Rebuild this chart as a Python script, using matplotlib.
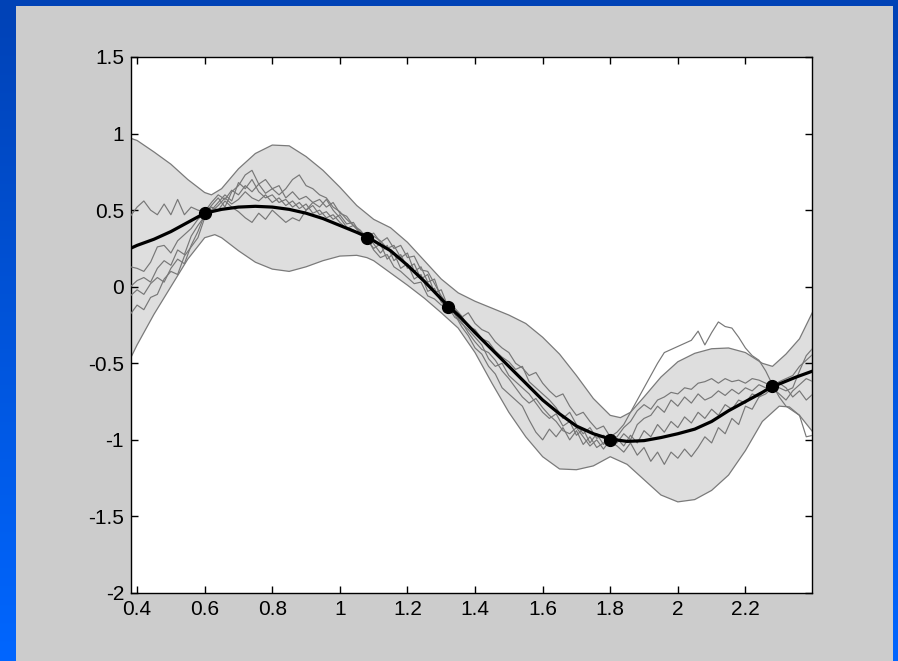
import numpy as np
import matplotlib
matplotlib.use("Agg")
import matplotlib.pyplot as plt
from matplotlib.colors import LinearSegmentedColormap
from matplotlib.patches import Rectangle

# --- data ---
# observed training points
obs_x = [0.6, 1.08, 1.32, 1.8, 2.28]
obs_y = [0.48, 0.32, -0.13, -1.0, -0.65]

# posterior mean
mean_x = [0.38, 0.40, 0.45, 0.50, 0.55, 0.60, 0.65, 0.70, 0.75, 0.80, 0.85, 0.90, 0.95,
          1.00, 1.05, 1.08, 1.10, 1.15, 1.20, 1.25, 1.30, 1.32, 1.35, 1.40, 1.45, 1.50,
          1.55, 1.60, 1.65, 1.70, 1.75, 1.80, 1.85, 1.90, 1.95, 2.00, 2.05, 2.10, 2.15,
          2.20, 2.25, 2.28, 2.30, 2.35, 2.40]
mean_y = [0.25, 0.27, 0.31, 0.36, 0.42, 0.48, 0.505, 0.52, 0.525, 0.52, 0.505, 0.48, 0.445,
          0.40, 0.355, 0.326, 0.30, 0.235, 0.14, 0.035, -0.08, -0.125, -0.185, -0.30, -0.41, -0.52,
          -0.63, -0.74, -0.83, -0.91, -0.96, -0.995, -1.01, -1.005, -0.985, -0.96, -0.93, -0.88, -0.81,
          -0.75, -0.69, -0.65, -0.635, -0.59, -0.55]

# upper edge of the confidence band
upper_x = [0.38, 0.40, 0.45, 0.50, 0.55, 0.60, 0.62, 0.65, 0.70, 0.75, 0.80, 0.85, 0.90, 0.95,
           1.00, 1.05, 1.10, 1.15, 1.20, 1.25, 1.30, 1.35, 1.40, 1.45, 1.50, 1.55, 1.60, 1.65,
           1.70, 1.75, 1.80, 1.83, 1.86, 1.90, 1.95, 2.00, 2.05, 2.10, 2.15, 2.20, 2.25, 2.28,
           2.32, 2.36, 2.40]
upper_y = [0.97, 0.955, 0.88, 0.80, 0.70, 0.615, 0.60, 0.64, 0.77, 0.87, 0.925, 0.92, 0.85, 0.76,
           0.65, 0.53, 0.44, 0.385, 0.29, 0.17, 0.05, -0.04, -0.095, -0.14, -0.185, -0.24, -0.33, -0.44,
           -0.58, -0.73, -0.84, -0.855, -0.82, -0.72, -0.59, -0.49, -0.435, -0.405, -0.40, -0.43, -0.50, -0.52,
           -0.44, -0.34, -0.16]

# lower edge of the confidence band
lower_x = [0.38, 0.40, 0.45, 0.50, 0.55, 0.60, 0.63, 0.65, 0.70, 0.75, 0.80, 0.85, 0.90, 0.95,
           1.00, 1.05, 1.08, 1.10, 1.15, 1.20, 1.25, 1.30, 1.35, 1.40, 1.45, 1.50, 1.55, 1.60,
           1.65, 1.70, 1.75, 1.80, 1.85, 1.90, 1.95, 2.00, 2.05, 2.10, 2.15, 2.20, 2.25, 2.30,
           2.33, 2.36, 2.40]
lower_y = [-0.47, -0.38, -0.18, 0.0, 0.18, 0.32, 0.34, 0.32, 0.235, 0.16, 0.115, 0.10, 0.13, 0.17,
           0.20, 0.205, 0.19, 0.17, 0.09, 0.01, -0.075, -0.17, -0.27, -0.43, -0.63, -0.82, -0.98, -1.11,
           -1.19, -1.195, -1.17, -1.11, -1.16, -1.26, -1.36, -1.405, -1.39, -1.33, -1.23, -1.07, -0.88, -0.78,
           -0.785, -0.84, -0.95]

# posterior samples, on a 0.02 grid from 0.38 to 2.40
sample_x = np.linspace(0.38, 2.40, 102)
sample_1 = [0.46, 0.52, 0.56, 0.50, 0.47, 0.54, 0.47, 0.57, 0.47, 0.52, 0.50, 0.49,
            0.55, 0.60, 0.57, 0.63, 0.60, 0.66, 0.62, 0.67, 0.61, 0.64, 0.60, 0.64,
            0.70, 0.73, 0.66, 0.64, 0.60, 0.58, 0.52, 0.49, 0.44, 0.40, 0.36, 0.33,
            0.28, 0.22, 0.27, 0.17, 0.21, 0.12, 0.15, 0.05, 0.08, -0.04, -0.02, -0.13,
            -0.15, -0.20, -0.17, -0.24, -0.28, -0.30, -0.36, -0.40, -0.43, -0.50, -0.53, -0.58,
            -0.56, -0.63, -0.68, -0.72, -0.70, -0.78, -0.84, -0.82, -0.88, -0.93, -0.91, -0.98,
            -0.95, -0.90, -0.82, -0.74, -0.66, -0.58, -0.50, -0.43, -0.41, -0.39, -0.37, -0.35,
            -0.29, -0.38, -0.30, -0.23, -0.26, -0.27, -0.33, -0.40, -0.45, -0.48, -0.55, -0.64,
            -0.72, -0.78, -0.81, -0.84, -0.98, -0.97]
sample_2 = [0.13, 0.12, 0.10, 0.16, 0.26, 0.27, 0.22, 0.30, 0.34, 0.38, 0.44, 0.48,
            0.53, 0.58, 0.52, 0.62, 0.66, 0.73, 0.76, 0.67, 0.70, 0.64, 0.66, 0.58,
            0.62, 0.57, 0.59, 0.55, 0.57, 0.52, 0.55, 0.48, 0.46, 0.40, 0.37, 0.32,
            0.33, 0.30, 0.25, 0.27, 0.19, 0.22, 0.10, 0.13, 0.03, 0.05, -0.08, -0.12,
            -0.18, -0.26, -0.32, -0.40, -0.44, -0.52, -0.57, -0.66, -0.70, -0.74, -0.78, -0.87,
            -0.95, -1.00, -0.93, -0.98, -0.92, -1.00, -0.94, -1.03, -0.98, -1.05, -1.02, -1.00,
            -0.98, -0.92, -0.88, -0.81, -0.77, -0.80, -0.74, -0.72, -0.69, -0.70, -0.66, -0.67,
            -0.63, -0.62, -0.60, -0.63, -0.60, -0.62, -0.61, -0.63, -0.60, -0.61, -0.63, -0.65,
            -0.66, -0.68, -0.66, -0.55, -0.45, -0.40]
sample_3 = [0.00, 0.04, 0.06, 0.03, 0.12, 0.17, 0.14, 0.24, 0.21, 0.33, 0.40, 0.46,
            0.50, 0.55, 0.60, 0.56, 0.68, 0.64, 0.70, 0.62, 0.58, 0.60, 0.55, 0.57,
            0.52, 0.55, 0.50, 0.53, 0.47, 0.49, 0.44, 0.47, 0.41, 0.42, 0.35, 0.31,
            0.25, 0.28, 0.18, 0.22, 0.12, 0.15, 0.05, 0.08, -0.03, -0.01, -0.10, -0.14,
            -0.17, -0.24, -0.28, -0.33, -0.38, -0.47, -0.52, -0.50, -0.58, -0.62, -0.66, -0.70,
            -0.76, -0.82, -0.86, -0.83, -0.91, -0.88, -0.97, -0.93, -1.02, -0.96, -1.03, -0.99,
            -1.02, -0.96, -1.00, -0.90, -0.86, -0.84, -0.78, -0.82, -0.74, -0.78, -0.72, -0.76,
            -0.70, -0.74, -0.72, -0.68, -0.71, -0.67, -0.70, -0.66, -0.68, -0.64, -0.66, -0.65,
            -0.62, -0.60, -0.58, -0.52, -0.48, -0.44]
sample_4 = [-0.06, -0.02, -0.05, 0.02, 0.06, 0.03, 0.12, 0.18, 0.15, 0.27, 0.36, 0.47,
            0.52, 0.50, 0.56, 0.52, 0.49, 0.45, 0.42, 0.48, 0.44, 0.50, 0.46, 0.42,
            0.45, 0.43, 0.50, 0.55, 0.52, 0.57, 0.50, 0.45, 0.39, 0.37, 0.34, 0.33,
            0.35, 0.29, 0.32, 0.25, 0.27, 0.19, 0.20, 0.11, 0.10, 0.02, -0.06, -0.12,
            -0.14, -0.19, -0.26, -0.28, -0.34, -0.36, -0.42, -0.46, -0.49, -0.54, -0.52, -0.62,
            -0.66, -0.70, -0.74, -0.79, -0.86, -0.82, -0.90, -0.96, -0.92, -0.99, -0.97, -1.01,
            -1.04, -1.08, -1.02, -1.10, -1.05, -1.14, -1.08, -1.16, -1.08, -1.12, -1.06, -1.11,
            -1.05, -0.98, -1.02, -0.92, -0.96, -0.86, -0.90, -0.78, -0.80, -0.72, -0.70, -0.66,
            -0.70, -0.74, -0.68, -0.64, -0.60, -0.62]
sample_5 = [-0.18, -0.12, -0.15, -0.07, -0.05, 0.05, 0.10, 0.08, 0.20, 0.26, 0.32, 0.45,
            0.49, 0.53, 0.58, 0.54, 0.57, 0.62, 0.58, 0.56, 0.60, 0.55, 0.58, 0.53,
            0.56, 0.51, 0.54, 0.48, 0.50, 0.45, 0.47, 0.42, 0.38, 0.40, 0.35, 0.32,
            0.24, 0.19, 0.21, 0.13, 0.10, 0.06, 0.02, 0.03, -0.06, -0.08, -0.12, -0.13,
            -0.20, -0.23, -0.30, -0.36, -0.41, -0.43, -0.48, -0.55, -0.60, -0.66, -0.72, -0.76,
            -0.73, -0.79, -0.84, -0.88, -0.94, -0.96, -0.92, -0.98, -1.04, -1.00, -1.06, -1.00,
            -0.99, -1.04, -0.97, -1.02, -0.94, -0.98, -0.90, -0.95, -0.88, -0.92, -0.85, -0.89,
            -0.82, -0.86, -0.80, -0.84, -0.77, -0.80, -0.74, -0.76, -0.70, -0.72, -0.67, -0.65,
            -0.63, -0.66, -0.72, -0.68, -0.74, -0.70]
samples = [sample_1, sample_2, sample_3, sample_4, sample_5]

xticks = [0.4, 0.6, 0.8, 1.0, 1.2, 1.4, 1.6, 1.8, 2.0, 2.2]
xtick_labels = ["0.4", "0.6", "0.8", "1", "1.2", "1.4", "1.6", "1.8", "2", "2.2"]
yticks = [-2, -1.5, -1, -0.5, 0, 0.5, 1, 1.5]
ytick_labels = ["-2", "-1.5", "-1", "-0.5", "0", "0.5", "1", "1.5"]

plt.rcParams['font.family'] = ['Liberation Sans Narrow', 'Liberation Sans', 'DejaVu Sans']

W, H = 898, 661
fig = plt.figure(figsize=(W / 100, H / 100), dpi=100)

# slide background: blue gradient with a grey panel
bg = fig.add_axes([0, 0, 1, 1])
bg.set_axis_off()
slide = LinearSegmentedColormap.from_list("slide", ["#0042b6", "#0066ff"])
bg.imshow(np.linspace(0, 1, 256).reshape(-1, 1), aspect="auto", cmap=slide,
          extent=[0, 1, 0, 1], origin="upper")
bg.add_patch(Rectangle((16 / W, 0), (893 - 16) / W, 1 - 6 / H, color="#cccccc", lw=0))
bg.set_xlim(0, 1)
bg.set_ylim(0, 1)

ax = fig.add_axes([131 / W, 1 - 593 / H, (812 - 131) / W, (593 - 57) / H])
ax.set_facecolor("white")

# confidence band
band_x = list(upper_x) + list(lower_x[::-1])
band_y = list(upper_y) + list(lower_y[::-1])
ax.fill(band_x, band_y, color="#dedede", lw=0, zorder=1)
ax.plot(upper_x, upper_y, color="#7a7a7a", lw=0.9, zorder=2)
ax.plot(lower_x, lower_y, color="#7a7a7a", lw=0.9, zorder=2)

for s in samples:
    ax.plot(sample_x, s, color="#777777", lw=0.85, zorder=3)

ax.plot(mean_x, mean_y, color="black", lw=2.3, zorder=4)
ax.plot(obs_x, obs_y, "o", color="black", ms=8.5, zorder=5)

ax.set_xlim(0.382, 2.397)
ax.set_ylim(-2, 1.5)
ax.set_xticks(xticks)
ax.set_xticklabels(xtick_labels)
ax.set_yticks(yticks)
ax.set_yticklabels(ytick_labels)
ax.tick_params(direction="in", top=True, right=True, length=5, width=1,
               labelsize=15, pad=5, colors="black")
for sp in ax.spines.values():
    sp.set_linewidth(1.0)
    sp.set_color("black")

fig.savefig("out.png", dpi=100)
